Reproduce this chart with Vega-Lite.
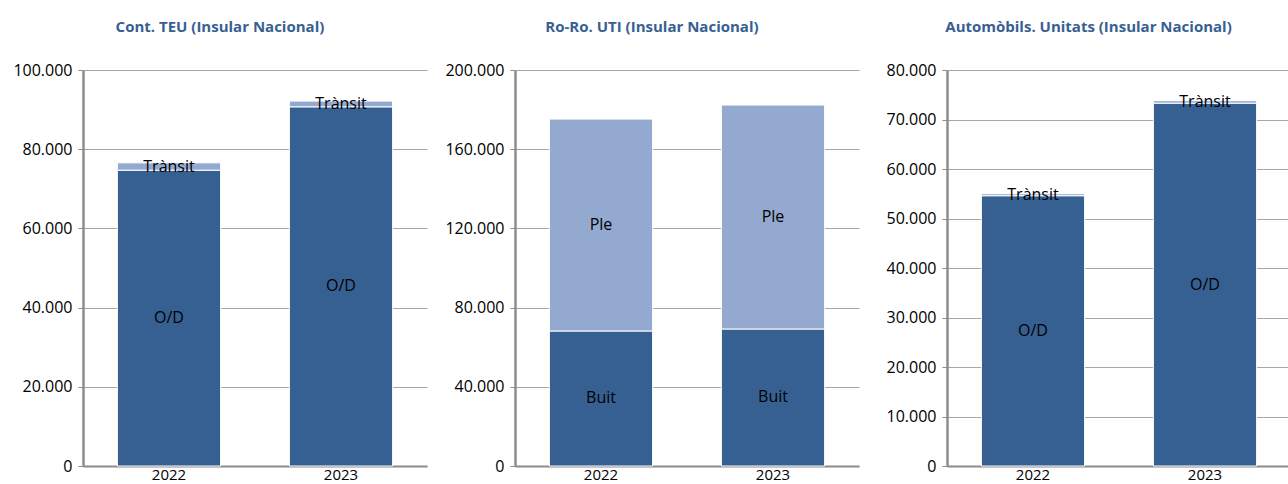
{
  "$schema": "https://vega.github.io/schema/vega-lite/v6.json",
  "padding": {"left": 12, "top": 20, "right": 0, "bottom": 0},
  "background": "white",
  "datasets": {
    "d": [
      {"panel": "TEU", "year": "2022", "cat": "O/D", "value": 74700},
      {"panel": "TEU", "year": "2022", "cat": "Trànsit", "value": 1850},
      {"panel": "TEU", "year": "2023", "cat": "O/D", "value": 90700},
      {"panel": "TEU", "year": "2023", "cat": "Trànsit", "value": 1450},
      {"panel": "RoRo", "year": "2022", "cat": "Buit", "value": 68200},
      {"panel": "RoRo", "year": "2022", "cat": "Ple", "value": 107000},
      {"panel": "RoRo", "year": "2023", "cat": "Buit", "value": 69200},
      {"panel": "RoRo", "year": "2023", "cat": "Ple", "value": 113100},
      {"panel": "Auto", "year": "2022", "cat": "O/D", "value": 54600},
      {"panel": "Auto", "year": "2022", "cat": "Trànsit", "value": 400},
      {"panel": "Auto", "year": "2023", "cat": "O/D", "value": 73300},
      {"panel": "Auto", "year": "2023", "cat": "Trànsit", "value": 500}
    ]
  },
  "data": {"name": "d"},
  "bounds": "flush",
  "spacing": 88,
  "hconcat": [
    {
      "title": "Cont. TEU (Insular Nacional)",
      "width": 344, "height": 396,
      "transform": [{"filter": "datum.panel === 'TEU'"}],
      "encoding": {
        "x": {"field": "year", "type": "nominal", "title": null, "scale": {"paddingInner": 0.4, "paddingOuter": 0.2}}
      },
      "layer": [
        {
          "mark": {"type": "bar", "stroke": "white", "strokeWidth": 1},
          "encoding": {
            "y": {"field": "value", "type": "quantitative", "stack": "zero", "title": null,
                  "scale": {"domain": [0, 100000], "nice": false},
                  "axis": {"values": [0, 20000, 40000, 60000, 80000, 100000], "format": ",d"}},
            "color": {"field": "cat", "type": "nominal", "legend": null,
                      "scale": {"domain": ["O/D", "Trànsit", "Buit", "Ple"], "range": ["#376092", "#93A9CF", "#376092", "#93A9CF"]}},
            "order": {"field": "cat", "sort": "ascending"}
          }
        },
        {
          "transform": [
            {"stack": "value", "groupby": ["year"], "sort": [{"field": "cat", "order": "ascending"}], "as": ["v0", "v1"]},
            {"fold": ["v0", "v1"], "as": ["k", "pos"]}
          ],
          "mark": {"type": "text", "font": "Open Sans", "fontSize": 16, "color": "black", "baseline": "middle"},
          "encoding": {
            "y": {"aggregate": "mean", "field": "pos", "type": "quantitative"},
            "detail": {"field": "cat"},
            "text": {"field": "cat", "type": "nominal"}
          }
        }
      ]
    },
    {
      "title": "Ro-Ro. UTI (Insular Nacional)",
      "width": 344, "height": 396,
      "transform": [{"filter": "datum.panel === 'RoRo'"}],
      "encoding": {
        "x": {"field": "year", "type": "nominal", "title": null, "scale": {"paddingInner": 0.4, "paddingOuter": 0.2}}
      },
      "layer": [
        {
          "mark": {"type": "bar", "stroke": "white", "strokeWidth": 1},
          "encoding": {
            "y": {"field": "value", "type": "quantitative", "stack": "zero", "title": null,
                  "scale": {"domain": [0, 200000], "nice": false},
                  "axis": {"values": [0, 40000, 80000, 120000, 160000, 200000], "format": ",d"}},
            "color": {"field": "cat", "type": "nominal", "legend": null,
                      "scale": {"domain": ["O/D", "Trànsit", "Buit", "Ple"], "range": ["#376092", "#93A9CF", "#376092", "#93A9CF"]}},
            "order": {"field": "cat", "sort": "ascending"}
          }
        },
        {
          "transform": [
            {"stack": "value", "groupby": ["year"], "sort": [{"field": "cat", "order": "ascending"}], "as": ["v0", "v1"]},
            {"fold": ["v0", "v1"], "as": ["k", "pos"]}
          ],
          "mark": {"type": "text", "font": "Open Sans", "fontSize": 16, "color": "black", "baseline": "middle"},
          "encoding": {
            "y": {"aggregate": "mean", "field": "pos", "type": "quantitative"},
            "detail": {"field": "cat"},
            "text": {"field": "cat", "type": "nominal"}
          }
        }
      ]
    },
    {
      "title": "Automòbils. Unitats (Insular Nacional)",
      "width": 344, "height": 396,
      "transform": [{"filter": "datum.panel === 'Auto'"}],
      "encoding": {
        "x": {"field": "year", "type": "nominal", "title": null, "scale": {"paddingInner": 0.4, "paddingOuter": 0.2}}
      },
      "layer": [
        {
          "mark": {"type": "bar", "stroke": "white", "strokeWidth": 1},
          "encoding": {
            "y": {"field": "value", "type": "quantitative", "stack": "zero", "title": null,
                  "scale": {"domain": [0, 80000], "nice": false},
                  "axis": {"values": [0, 10000, 20000, 30000, 40000, 50000, 60000, 70000, 80000], "format": ",d"}},
            "color": {"field": "cat", "type": "nominal", "legend": null,
                      "scale": {"domain": ["O/D", "Trànsit", "Buit", "Ple"], "range": ["#376092", "#93A9CF", "#376092", "#93A9CF"]}},
            "order": {"field": "cat", "sort": "ascending"}
          }
        },
        {
          "transform": [
            {"stack": "value", "groupby": ["year"], "sort": [{"field": "cat", "order": "ascending"}], "as": ["v0", "v1"]},
            {"fold": ["v0", "v1"], "as": ["k", "pos"]}
          ],
          "mark": {"type": "text", "font": "Open Sans", "fontSize": 16, "color": "black", "baseline": "middle"},
          "encoding": {
            "y": {"aggregate": "mean", "field": "pos", "type": "quantitative"},
            "detail": {"field": "cat"},
            "text": {"field": "cat", "type": "nominal"}
          }
        }
      ]
    }
  ],
  "resolve": {"scale": {"y": "independent", "x": "independent"}},
  "config": {
    "locale": {"number": {"decimal": ",", "thousands": ".", "grouping": [3], "currency": ["", " €"]}},
    "view": {"stroke": null},
    "title": {"font": "Open Sans", "fontSize": 15, "fontWeight": "bold", "color": "#376092", "anchor": "middle", "frame": "bounds", "offset": 27},
    "axisY": {
      "domainColor": "#8C8C8C", "domainWidth": 2.5,
      "gridColor": "#A6A6A6", "gridWidth": 1,
      "tickColor": "#8C8C8C", "tickSize": 5, "tickWidth": 1,
      "labelFont": "Open Sans", "labelFontSize": 16, "labelColor": "black", "labelPadding": 6
    },
    "axisX": {
      "domainColor": "#8C8C8C", "domainWidth": 2,
      "ticks": false, "grid": false,
      "labelFont": "Open Sans", "labelFontSize": 15, "labelColor": "black", "labelPadding": 1, "labelBaseline": "top", "labelAngle": 0
    }
  }
}
